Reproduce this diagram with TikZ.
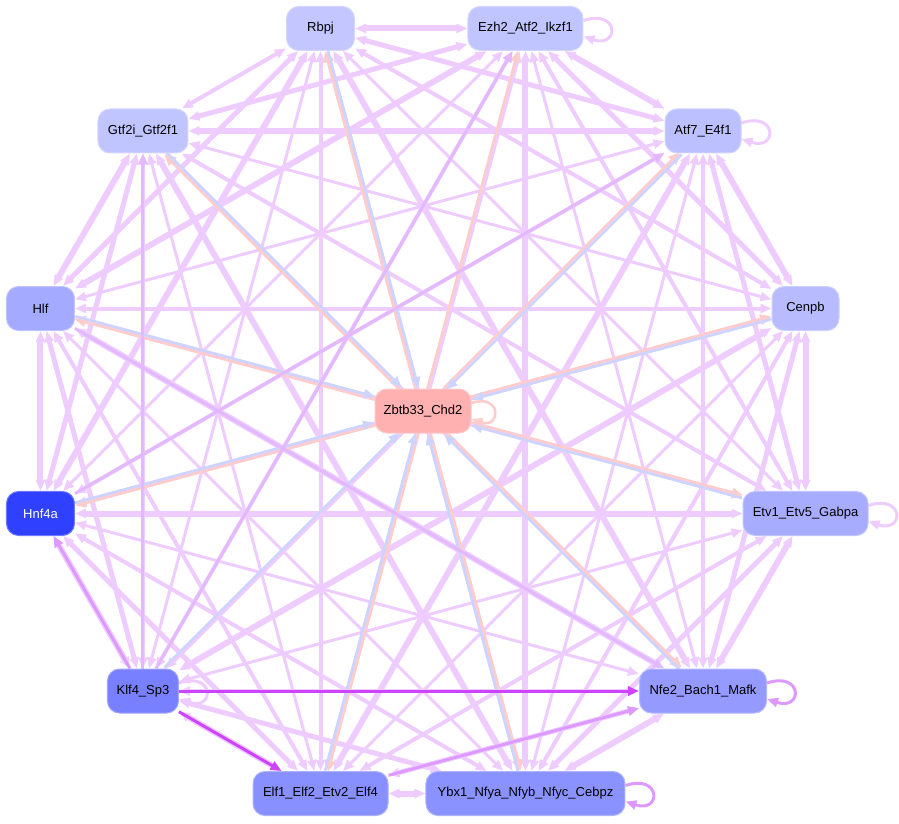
\documentclass[tikz,border=0pt]{standalone}
\usepackage{fontspec}
\setmainfont{Liberation Sans}
\usetikzlibrary{arrows.meta,backgrounds}
\definecolor{edgec}{RGB}{238,204,255}
\definecolor{softc}{RGB}{228,184,255}
\definecolor{midc}{RGB}{221,153,255}
\definecolor{darkc}{RGB}{204,68,255}
\definecolor{pinkc}{RGB}{255,204,204}
\definecolor{bluec}{RGB}{204,212,255}
\definecolor{frbpj}{RGB}{195,198,255}
\definecolor{fezh}{RGB}{192,196,255}
\definecolor{fatf}{RGB}{188,192,255}
\definecolor{fcenpb}{RGB}{184,188,255}
\definecolor{fetv}{RGB}{168,172,255}
\definecolor{fnfe}{RGB}{148,154,255}
\definecolor{fybx}{RGB}{138,146,255}
\definecolor{felf}{RGB}{136,144,255}
\definecolor{fklf}{RGB}{120,128,255}
\definecolor{fhnf}{RGB}{48,64,255}
\definecolor{fhlf}{RGB}{164,170,255}
\definecolor{fgtf}{RGB}{192,196,255}
\definecolor{fzbt}{RGB}{255,176,176}

\begin{document}
\begin{tikzpicture}[x=1pt,y=1pt,
  tf/.style={rounded corners=12pt,minimum height=44pt,inner sep=0pt,line width=1pt,font=\fontsize{13}{15}\selectfont},
  tip/.style={-{Triangle[length=11pt,width=9pt]}},
  lnk/.style={draw=edgec,{Triangle[length=11pt,width=9pt]}-{Triangle[length=11pt,width=9pt]}},
  pk/.style={draw=pinkc,line width=2.6pt,tip},
  bl/.style={draw=bluec,line width=2.6pt,tip},
  sf/.style={draw=softc,line width=3pt,tip},
  md/.style={draw=midc,line width=3pt,tip},
  dk/.style={draw=darkc,line width=3pt,tip},
  lp/.style={tip,line width=3pt}]
\useasboundingbox (-423,-412) rectangle (476,411);
\foreach \n/\t/\w/\k [count=\i] in {rbpj/Rbpj/68/black, ezh/Ezh2\_Atf2\_Ikzf1/115/black, atf/Atf7\_E4f1/76/black,
  cenpb/Cenpb/67/black, etv/Etv1\_Etv5\_Gabpa/125/black, nfe/Nfe2\_Bach1\_Mafk/127/black,
  ybx/Ybx1\_Nfya\_Nfyb\_Nfyc\_Cebpz/199/black, elf/Elf1\_Elf2\_Etv2\_Elf4/135/black, klf/Klf4\_Sp3/71/black,
  hnf/Hnf4a/68/white, hlf/Hlf/68/black, gtf/Gtf2i\_Gtf2f1/90/black}
  \node[tf,fill=f\n,draw=f\n!70!white,text=\k,minimum width=\w pt,alias=n\i] (\n) at ({105-30*(\i-1)}:396) {\t};
\node[tf,fill=fzbt,draw=fzbt!70!white,minimum width=96pt] (zbt) at (0,0) {Zbtb33\_Chd2};

\begin{scope}[on background layer]
\foreach \i in {1,...,11}{
  \pgfmathtruncatemacro\ii{\i+1}
  \foreach \j in {\ii,...,12}{
    \pgfmathsetmacro\lw{3+mod(\i*5+\j*3,4)}
    \draw[lnk,line width=\lw pt] (n\i) -- (n\j);}}
\foreach \n/\c in {ezh/edgec,atf/edgec,etv/edgec,klf/edgec,ybx/midc,nfe/midc}
  \draw[lp,draw=\c] ([yshift=8pt]\n.east) .. controls +(36,12) and +(36,-12) .. ([yshift=-8pt]\n.east);
\foreach \i in {1,...,12}{
  \pgfmathsetmacro\a{105-30*(\i-1)}
  \ifnum\i=9\else \draw[pk,transform canvas={shift={({\a+90}:1.5)}}] (zbt) -- (n\i); \fi
  \ifnum\i=2\else \draw[bl,transform canvas={shift={({\a-90}:1.5)}}] (n\i) -- (zbt); \fi}
\draw[lp,draw=pinkc,line width=2.6pt] ([yshift=8pt]zbt.east) .. controls +(30,10) and +(30,-10) .. ([yshift=-8pt]zbt.east);
\draw[sf] (klf) -- (gtf); \draw[sf] (klf) -- (ezh); \draw[sf] (hnf) -- (atf); \draw[sf] (hlf) -- (nfe);
\draw[md] (klf) -- (hnf); \draw[md] (elf) -- (nfe);
\draw[dk] (klf) -- (nfe); \draw[dk] (klf) -- (elf);
\end{scope}
\end{tikzpicture}
\end{document}
